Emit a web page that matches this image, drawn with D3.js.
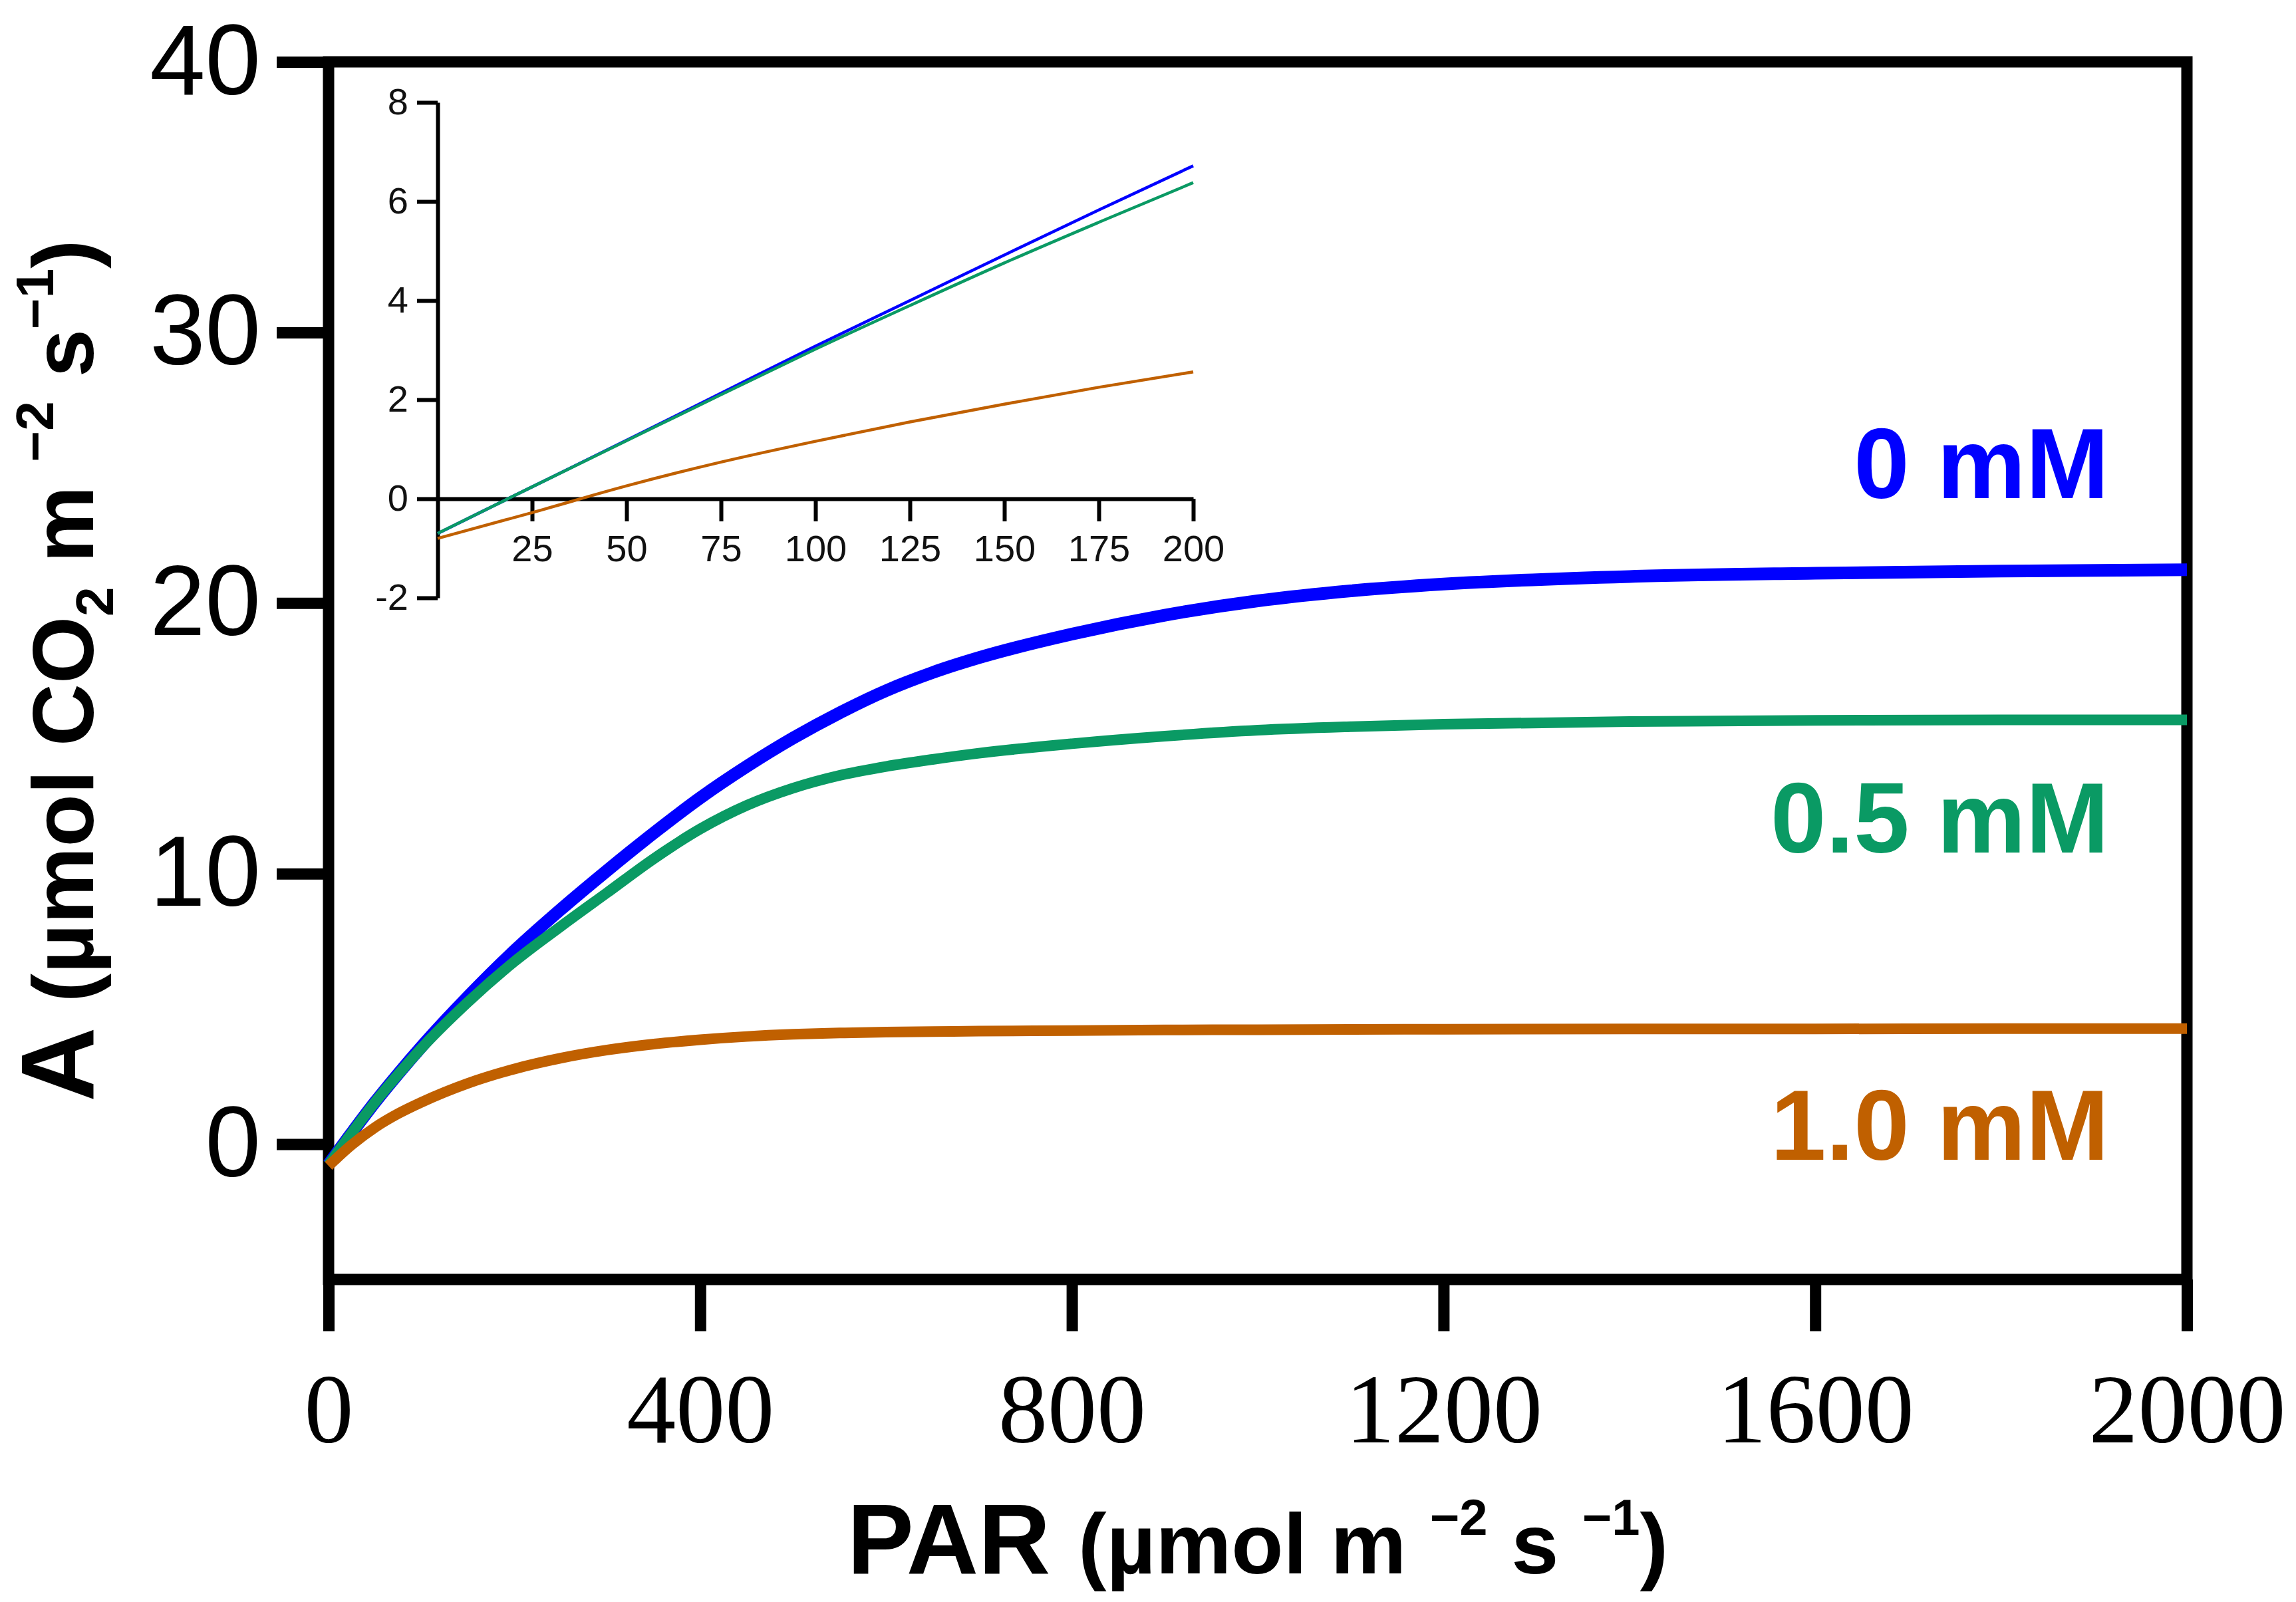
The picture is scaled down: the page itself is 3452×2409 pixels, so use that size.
<!DOCTYPE html>
<html>
<head>
<meta charset="utf-8">
<script src="https://cdn.jsdelivr.net/npm/d3@7"></script>
<style>
  body { margin: 0; background: #fff; }
</style>
</head>
<body>
<svg width="3452" height="2409" font-family="'Liberation Sans', Arial, sans-serif"></svg>
<script>
// main light-response curves (PAR vs A)
const par = [0, 25, 50, 75, 100, 150, 200, 250, 300, 350, 400, 450, 500, 550, 600, 650, 700, 800, 900, 1000, 1100, 1200, 1400, 1600, 1800, 2000];
const a0mM = [-0.75, 0.42, 1.55, 2.6, 3.6, 5.45, 7.15, 8.68, 10.12, 11.5, 12.8, 13.96, 15.01, 15.94, 16.76, 17.43, 17.98, 18.85, 19.55, 20.08, 20.45, 20.7, 20.98, 21.1, 21.18, 21.23];
const a05mM = [-0.75, 0.42, 1.55, 2.58, 3.55, 5.25, 6.75, 8.05, 9.3, 10.55, 11.65, 12.52, 13.16, 13.63, 13.96, 14.22, 14.45, 14.8, 15.08, 15.3, 15.43, 15.52, 15.62, 15.66, 15.68, 15.68];
const a10mM = [-0.8, -0.02, 0.62, 1.13, 1.55, 2.25, 2.78, 3.18, 3.48, 3.7, 3.86, 3.98, 4.06, 4.11, 4.14, 4.16, 4.18, 4.2, 4.22, 4.23, 4.24, 4.25, 4.26, 4.26, 4.27, 4.27];

// inset: low-light part
const insetPar = [0, 25, 50, 75, 100, 125, 150, 175, 200];
const inset0mM = [-0.7, 0.24, 1.18, 2.13, 3.08, 4.0, 4.92, 5.83, 6.72];
const inset05mM = [-0.7, 0.24, 1.17, 2.1, 3.02, 3.9, 4.76, 5.58, 6.38];
const inset10mM = [-0.8, -0.28, 0.26, 0.74, 1.16, 1.55, 1.91, 2.25, 2.56];

const seriesNames = ["0 mM", "0.5 mM", "1.0 mM"];
const colors = ["#0000ff", "#0a9a64", "#c06000"];

const xTicks = [0, 400, 800, 1200, 1600, 2000];
const yTicks = [0, 10, 20, 30, 40];
const insetXTicks = [25, 50, 75, 100, 125, 150, 175, 200];
const insetYTicks = [-2, 0, 2, 4, 6, 8];

const svg = d3.select("svg");

const x = d3.scaleLinear().domain([0, 2000]).range([494, 3288]);
const y = d3.scaleLinear().domain([-5, 40]).range([1924, 93]);

// frame
svg.append("rect")
  .attr("x", x(0)).attr("y", y(40))
  .attr("width", x(2000) - x(0)).attr("height", y(-5) - y(40))
  .attr("fill", "none").attr("stroke", "#000").attr("stroke-width", 17);

// y axis
const gy = svg.append("g")
  .attr("transform", `translate(${x(0)},0)`)
  .call(d3.axisLeft(y).tickValues(yTicks).tickSize(78).tickSizeOuter(0).tickPadding(24));
gy.select(".domain").remove();
gy.selectAll("line").attr("stroke", "#000").attr("stroke-width", 17);
gy.selectAll("text")
  .attr("font-family", "'Liberation Sans', Arial, sans-serif")
  .attr("font-size", 150).attr("fill", "#000");

// x axis
const gx = svg.append("g")
  .attr("transform", `translate(0,${y(-5)})`)
  .call(d3.axisBottom(x).tickValues(xTicks).tickSize(78).tickSizeOuter(0).tickPadding(62).tickFormat(d => String(d)));
gx.select(".domain").remove();
gx.selectAll("line").attr("stroke", "#000").attr("stroke-width", 17);
gx.selectAll("text")
  .attr("font-family", "'Liberation Serif', 'Times New Roman', serif")
  .attr("font-size", 148).attr("fill", "#000");

// curves
const mainData = [a0mM, a05mM, a10mM];
const line = d3.line()
  .x((d, i) => x(par[i]))
  .y(d => y(d))
  .curve(d3.curveMonotoneX);

svg.selectAll("path.curve")
  .data(mainData)
  .enter()
  .append("path")
  .attr("class", "curve")
  .attr("d", d => line(d))
  .attr("fill", "none")
  .attr("stroke", (d, i) => colors[i])
  .attr("stroke-width", (d, i) => i === 0 ? 19 : 16);

// series labels
const labelPos = [[1916, 23.88], [1916, 10.78], [1916, -0.58]];
svg.selectAll("text.series")
  .data(seriesNames)
  .enter()
  .append("text")
  .attr("class", "series")
  .attr("x", (d, i) => x(labelPos[i][0]))
  .attr("y", (d, i) => y(labelPos[i][1]))
  .attr("text-anchor", "end")
  .attr("font-size", 150)
  .attr("font-weight", "bold")
  .attr("fill", (d, i) => colors[i])
  .text(d => d);

// inset
const xi = d3.scaleLinear().domain([0, 200]).range([658, 1794]);
const yi = d3.scaleLinear().domain([-2, 8]).range([899, 154]);

const giy = svg.append("g")
  .attr("transform", `translate(${xi(0)},0)`)
  .call(d3.axisLeft(yi).tickValues(insetYTicks).tickSize(31).tickSizeOuter(0).tickPadding(13).tickFormat(d => String(d)));
const gix = svg.append("g")
  .attr("transform", `translate(0,${yi(0)})`)
  .call(d3.axisBottom(xi).tickValues(insetXTicks).tickSize(34).tickSizeOuter(0).tickPadding(20).tickFormat(d => String(d)));

[giy, gix].forEach(g => {
  g.select(".domain").attr("stroke", "#000").attr("stroke-width", 6);
  g.selectAll("line").attr("stroke", "#000").attr("stroke-width", 6);
  g.selectAll("text")
    .attr("font-family", "'Liberation Sans', Arial, sans-serif")
    .attr("font-size", 56).attr("fill", "#111");
});

const insetData = [inset0mM, inset05mM, inset10mM];
const insetLine = d3.line()
  .x((d, i) => xi(insetPar[i]))
  .y(d => yi(d))
  .curve(d3.curveMonotoneX);

svg.selectAll("path.inset")
  .data(insetData)
  .enter()
  .append("path")
  .attr("class", "inset")
  .attr("d", d => insetLine(d))
  .attr("fill", "none")
  .attr("stroke", (d, i) => colors[i])
  .attr("stroke-width", 4.5);

// axis titles
const xTitle = svg.append("text")
  .attr("x", (x(0) + x(2000)) / 2)
  .attr("y", 2366)
  .attr("text-anchor", "middle")
  .attr("font-weight", "bold")
  .attr("fill", "#000");
xTitle.append("tspan").attr("font-size", 150).text("PAR ");
xTitle.append("tspan").attr("font-size", 128).text("(µmol m ");
xTitle.append("tspan").attr("font-size", 76).attr("dy", -58).text("−2");
xTitle.append("tspan").attr("font-size", 128).attr("dy", 58).text(" s ");
xTitle.append("tspan").attr("font-size", 76).attr("dy", -58).text("−1");
xTitle.append("tspan").attr("font-size", 128).attr("dy", 58).text(")");

const yTitle = svg.append("text")
  .attr("transform", `translate(140,${(y(-5) + y(40)) / 2}) rotate(-90)`)
  .attr("text-anchor", "middle")
  .attr("font-weight", "bold")
  .attr("fill", "#000");
yTitle.append("tspan").attr("font-size", 155).text("A ");
yTitle.append("tspan").attr("font-size", 130).text("(µmol CO");
yTitle.append("tspan").attr("font-size", 80).attr("dy", 30).text("2");
yTitle.append("tspan").attr("font-size", 130).attr("dy", -30).text(" m ");
yTitle.append("tspan").attr("font-size", 80).attr("dy", -60).text("−2");
yTitle.append("tspan").attr("font-size", 130).attr("dy", 60).text(" s");
yTitle.append("tspan").attr("font-size", 80).attr("dy", -60).text("−1");
yTitle.append("tspan").attr("font-size", 130).attr("dy", 60).text(")");
</script>
</body>
</html>
